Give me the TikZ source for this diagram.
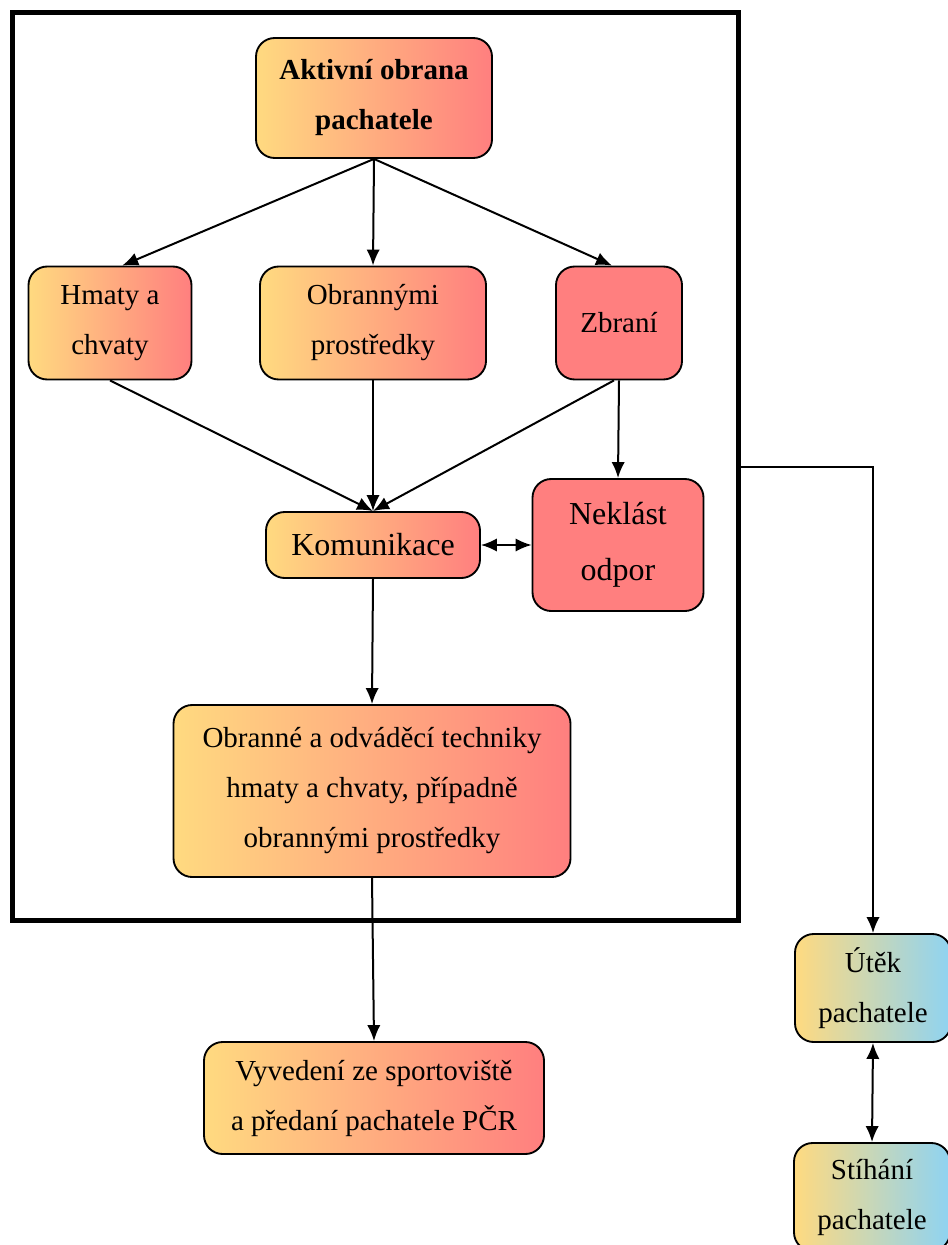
\documentclass[tikz,border=0pt]{standalone}
\usepackage{fontspec}
\setmainfont{Liberation Serif}
\usepackage{tikz}
\usetikzlibrary{arrows.meta}

\definecolor{zluta}{HTML}{FFDA80}
\definecolor{cervena}{HTML}{FF7F7F}
\definecolor{modra}{HTML}{8ED3F2}

\begin{document}
\begin{tikzpicture}[x=0.75pt, y=-0.75pt,
  ram/.style={draw, line width=1.4pt, rounded corners=14pt, inner sep=0pt, align=center,
    font=\fontsize{21.75}{37.5}\selectfont},
  box/.style={ram, left color=zluta, right color=cervena},
  boxred/.style={ram, fill=cervena},
  boxblue/.style={ram, left color=zluta, right color=modra},
  sipka/.style={line width=1.5pt, -{Latex[length=12pt,width=10pt]}},
  obe/.style={line width=1.5pt, {Latex[length=12pt,width=10pt]}-{Latex[length=12pt,width=10pt]}}]
\useasboundingbox (0,0) rectangle (948,1245);
\clip (0,0) rectangle (948,1245);

% velky ram
\draw[line width=3.75pt] (12.5,12.5) rectangle (738.5,920);
\coordinate (ramR) at (738.5,467);

\node[box, minimum width=177pt, minimum height=90pt,
  font=\fontsize{21.75}{37.5}\selectfont\bfseries] (aktivni) at (374,98) {Aktivní obrana\\pachatele};

\node[box, minimum width=122.25pt, minimum height=84.75pt] (hmaty) at (110,323) {Hmaty a\\chvaty};
\node[box, minimum width=169.5pt, minimum height=84.75pt] (obrannymi) at (373,323) {Obrannými\\prostředky};
\node[boxred, minimum width=94.5pt, minimum height=84.75pt] (zbrani) at (619,323) {Zbraní};

\node[box, minimum width=160.5pt, minimum height=49.5pt,
  font=\fontsize{24}{42}\selectfont] (komunikace) at (373,545) {Komunikace};
\node[boxred, minimum width=128.25pt, minimum height=99pt,
  font=\fontsize{24}{42}\selectfont] (neklast) at (618,545) {Neklást\\odpor};

\node[box, minimum width=297.75pt, minimum height=129pt] (techniky) at (372,791)
  {Obranné a odváděcí techniky\\hmaty a chvaty, případně\\obrannými prostředky};

\node[box, minimum width=255pt, minimum height=84pt] (vyvedeni) at (374,1098)
  {Vyvedení ze sportoviště\\a předaní pachatele PČR};

\node[boxblue, minimum width=117pt, minimum height=81pt] (utek) at (873,988) {Útěk\\pachatele};
\node[boxblue, minimum width=117pt, minimum height=81pt] (stihani) at (872,1197) {Stíhání\\pachatele};

\draw[sipka] (aktivni.south) -- (hmaty.78);
\draw[sipka] (aktivni.south) -- (obrannymi.north);
\draw[sipka] (aktivni.south) -- (zbrani.97);

\draw[sipka] (hmaty.south) -- (komunikace.north);
\draw[sipka] (obrannymi.south) -- (komunikace.north);
\draw[sipka] (zbrani.265) -- (komunikace.north);
\draw[sipka] (zbrani.south) -- (neklast.north);

\draw[obe] (komunikace.east) -- (neklast.west);
\draw[sipka] (komunikace.south) -- (techniky.north);
\draw[sipka] (techniky.south) -- (vyvedeni.north);

\draw[sipka] (ramR) -| (utek.north);
\draw[obe] (utek.south) -- (stihani.north);
\end{tikzpicture}
\end{document}
